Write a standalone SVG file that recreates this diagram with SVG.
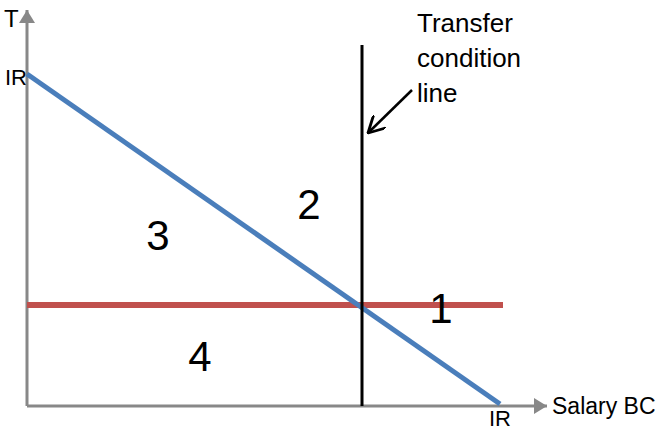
<svg xmlns="http://www.w3.org/2000/svg" width="659" height="432" viewBox="0 0 659 432">
<style>
text{font-family:"Liberation Sans",Arial,sans-serif;fill:#000}
.lbl{font-size:22px}
.tr{font-size:26px}
.num{font-size:42px;text-anchor:middle}
</style>
<defs>
<marker id="ah" viewBox="0 0 13 16" refX="13" refY="8" markerWidth="13" markerHeight="16" markerUnits="userSpaceOnUse" orient="auto">
<path d="M0,0 L13,8 L0,16 Z" fill="#888"/>
</marker>
<marker id="open" viewBox="0 0 14 14" refX="13" refY="7" markerWidth="18" markerHeight="18" markerUnits="userSpaceOnUse" orient="auto">
<path d="M0,0 L13,7 L0,14" fill="none" stroke="#000" stroke-width="2.2"/>
</marker>
</defs>
<rect width="659" height="432" fill="#fff"/>
<g id="connectors">
<line x1="27" y1="406" x2="27" y2="10" stroke="#888" stroke-width="3" marker-end="url(#ah)"/>
<line x1="27" y1="406" x2="547" y2="406" stroke="#888" stroke-width="3" marker-end="url(#ah)"/>
<line x1="27" y1="305" x2="503" y2="305" stroke="#C0504D" stroke-width="6"/>
<line x1="27" y1="74" x2="500" y2="404" stroke="#4A7EBB" stroke-width="5"/>
<line x1="362" y1="45" x2="362" y2="406" stroke="#000" stroke-width="3"/>
<line x1="412" y1="90" x2="368" y2="133" stroke="#000" stroke-width="2.5" marker-end="url(#open)"/>
</g>
<g id="axis-labels">
<text class="lbl" x="4" y="27" style="font-size:24px">T</text>
<text class="lbl" x="5" y="85">IR</text>
<text class="lbl" x="489" y="426">IR</text>
<text class="lbl" x="552" y="414" style="font-size:23px">Salary BC</text>
</g>
<g id="transfer-label">
<text class="tr" x="417" y="32">Transfer</text>
<text class="tr" x="417" y="67">condition</text>
<text class="tr" x="417" y="102">line</text>
</g>
<g id="region-1"><text class="num" x="441" y="323">1</text></g>
<g id="region-2"><text class="num" x="309" y="219">2</text></g>
<g id="region-3"><text class="num" x="158" y="250">3</text></g>
<g id="region-4"><text class="num" x="200" y="371">4</text></g>
</svg>
